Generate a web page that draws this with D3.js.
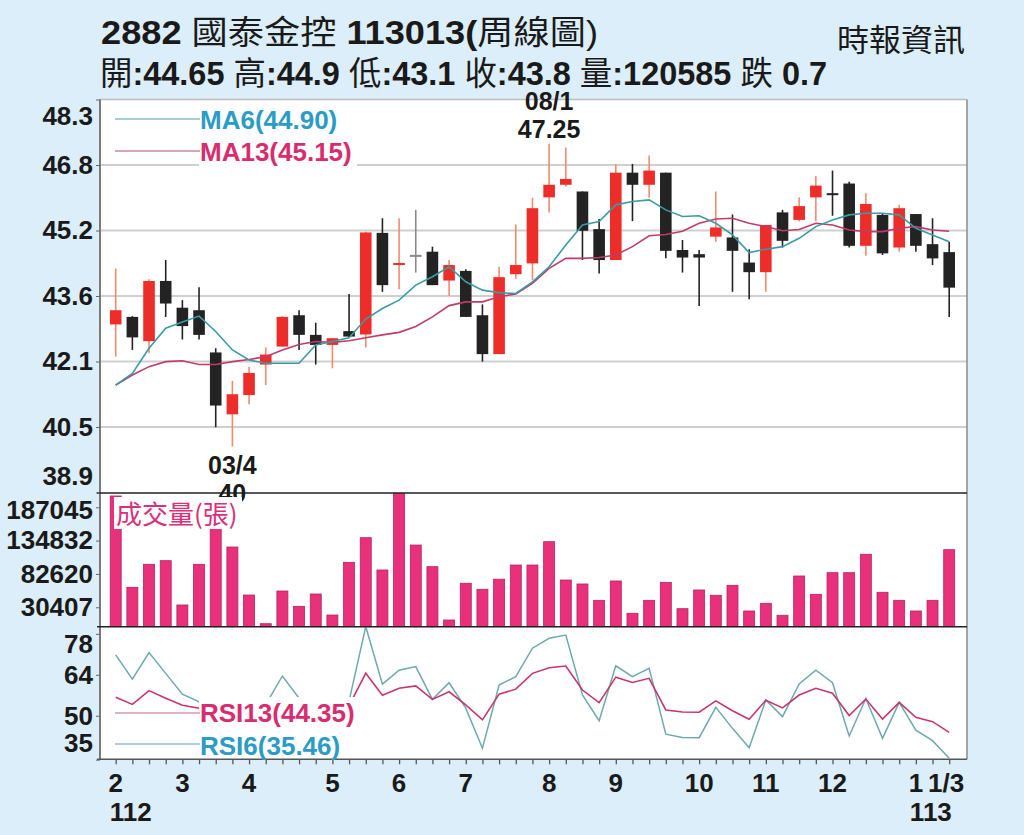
<!DOCTYPE html>
<html><head><meta charset="utf-8">
<script src="https://cdn.jsdelivr.net/npm/d3@7"></script>
<style>body{margin:0;background:#dceef9;} svg{display:block;}</style>
</head><body><svg id="c" width="1024" height="835"></svg>
<script>
// ---------- data ----------
const weeks = ["02/1","02/2","02/3","02/4","03/1","03/2","03/3","03/4","04/1","04/2","04/3","04/4","04/5",
  "05/1","05/2","05/3","05/4","06/1","06/2","06/3","06/4","07/1","07/2","07/3","07/4","07/5",
  "08/1","08/2","08/3","08/4","09/1","09/2","09/3","09/4","09/5","10/1","10/2","10/3","10/4",
  "11/1","11/2","11/3","11/4","12/1","12/2","12/3","12/4","12/5","01/1","01/2","01/3"];
const opens  = [42.92,43.10,42.52,43.96,43.32,43.26,42.25,40.77,41.23,41.96,42.39,43.14,42.67,42.43,42.76,42.68,45.11,44.35,44.56,44.66,43.97,44.20,43.14,42.21,44.12,44.38,45.96,46.26,46.10,45.20,44.46,46.55,46.26,46.55,44.70,44.60,45.02,45.00,44.40,44.17,45.60,45.42,45.96,46.05,46.29,44.80,45.54,44.76,45.56,44.84,44.65];
const highs  = [44.26,43.12,44.00,44.46,43.50,43.81,42.35,41.57,41.91,42.37,43.12,43.26,42.96,42.60,43.65,45.14,45.46,45.46,45.66,44.78,44.46,44.24,43.40,44.30,45.31,45.95,47.25,47.15,46.10,45.44,46.76,46.76,46.96,46.55,44.94,44.70,46.10,45.55,44.72,45.30,45.66,45.96,46.47,46.60,46.33,46.06,45.58,45.78,45.56,45.46,44.90];
const lows   = [42.15,42.31,42.23,43.10,42.56,42.56,40.46,40.00,41.01,41.47,42.39,42.31,41.96,41.87,42.62,42.37,43.70,43.76,44.16,43.86,43.60,43.10,42.03,42.21,44.01,43.98,45.60,46.22,44.46,44.14,44.46,45.39,45.95,44.50,44.16,43.36,44.90,43.70,43.52,43.70,44.76,45.38,45.39,45.52,44.76,44.56,44.58,44.66,44.66,44.34,43.10];
const closes = [43.26,42.61,43.96,43.42,42.88,42.67,40.98,41.25,41.76,42.20,43.10,42.67,42.43,42.59,42.63,45.12,43.86,44.38,44.56,43.86,44.34,43.10,42.21,44.05,44.34,45.70,46.26,46.40,45.16,44.46,46.55,46.26,46.60,44.68,44.52,44.52,45.24,44.68,44.17,45.30,44.92,45.75,46.24,46.02,44.80,45.80,44.62,45.70,44.80,44.50,43.80];
const volumes = [204700,61700,97700,103400,34000,97700,154100,124800,49600,4700,55900,31900,51200,18300,100800,139400,88800,208900,127900,94000,10500,68000,58600,74400,96600,96600,133100,73100,66900,41300,71600,21000,41300,69500,28200,57500,49200,64800,24600,36600,17900,79400,50700,84600,84600,113400,53900,41300,24600,41300,120585];
const ma6  = [41.47,41.75,42.35,42.83,42.98,43.12,42.75,42.31,42.07,41.99,41.99,41.99,42.43,42.51,42.60,43.05,43.30,43.50,43.86,44.06,44.30,43.94,43.74,43.68,43.66,43.94,44.30,44.82,45.30,45.38,45.78,45.86,45.90,45.66,45.50,45.52,45.34,45.06,44.64,44.72,44.78,44.98,45.26,45.42,45.54,45.58,45.58,45.54,45.22,45.06,44.90];
const ma13 = [41.47,41.71,41.91,42.03,42.05,41.96,41.96,42.03,42.08,42.15,42.31,42.44,42.51,42.49,42.53,42.60,42.67,42.73,42.87,43.10,43.37,43.46,43.46,43.58,43.65,43.90,44.26,44.50,44.50,44.52,44.58,44.78,45.04,45.07,45.15,45.34,45.44,45.46,45.34,45.26,45.16,45.19,45.34,45.30,45.18,45.14,45.14,45.22,45.26,45.18,45.15];
const rsi6  = [70.8,62.5,71.6,64.5,57.4,54.8,44.0,36.0,42.0,53.8,63.6,56.0,50.0,51.0,55.0,80.5,60.8,65.6,66.8,55.6,61.3,52.6,38.9,60.5,63.4,73.1,76.5,77.6,57.1,48.3,67.1,63.4,66.2,43.7,42.6,42.5,52.9,45.7,39.1,55.4,49.7,60.9,65.6,61.3,43.1,55.9,42.3,54.6,45.1,41.5,35.46];
const rsi13 = [56.3,53.9,58.6,56.0,53.6,52.6,45.0,43.0,45.0,47.0,52.0,49.0,48.0,49.0,53.5,64.5,57.0,59.4,60.2,55.6,58.2,53.7,48.6,57.4,59.1,64.5,66.4,67.0,58.8,54.5,63.2,61.4,62.8,52.0,51.3,51.2,55.1,51.7,48.8,55.3,52.7,57.1,59.4,57.7,50.1,55.7,48.9,54.6,49.5,48.0,44.35];

const priceTicks = [48.3,46.733,45.167,43.6,42.033,40.467,38.9];
const priceTickLabels = ["48.3","46.8","45.2","43.6","42.1","40.5","38.9"];
const volTicks = [187045,134832,82620,30407];
const rsiTicks = [78,64,50,35];
const monthTickWeeks = ["02/1","03/1","04/1","05/1","06/1","07/1","08/1","09/1","10/1","11/1","12/1","01/1","01/3"];
const monthTickLabels = ["2","3","4","5","6","7","8","9","10","11","12","1","1/3"];
const yearWeeks = ["02/1","01/1"];
const yearLabels = ["112","113"];
const annotWeeks = ["08/1","03/4"];
const annotPrices = [47.25,40];

// ---------- layout ----------
const W=1024,H=835, L=100, R=967;
const P={top:99.5,bot:492.5}, V={top:493.3,bot:626.7}, S={top:627,bot:759.3};
const FONT = '"Liberation Sans", Arial, "Noto Sans CJK TC", sans-serif';
const BG = '#dceef9';
const svg = d3.select('#c').style('font-family', FONT);
svg.append('rect').attr('width',W).attr('height',H).attr('fill',BG);
svg.append('rect').attr('x',L).attr('y',P.top).attr('width',R-L).attr('height',S.bot-P.top).attr('fill','#fff');

const x  = d3.scalePoint().domain(weeks).range([115.7,949.2]);
const yP = d3.scaleLinear().domain([38.9,48.3]).range([P.bot,P.top]);
const yV = d3.scaleLinear().domain([0,208900]).range([V.bot,V.top]);
const yR = d3.scaleLinear().domain([35.12,80.35]).range([S.bot,S.top]);

// grid
svg.append('g').selectAll('line').data(priceTicks.slice(1,-1)).join('line')
  .attr('x1',L).attr('x2',R).attr('y1',d=>yP(d)).attr('y2',d=>yP(d))
  .attr('stroke','#cfcfcf').attr('stroke-width',2);

// candles
const RED='#ec2d2a', BLK='#232323';
const cg = svg.append('g');
weeks.forEach((w,i)=>{
  const o=opens[i], c=closes[i], h=highs[i], l=lows[i];
  const up = c>o, flat = c===o;
  const col = flat ? '#8a8a8a' : (up?RED:BLK);
  const wcol = flat ? '#8a8a8a' : (up?'#f28a72':BLK);
  cg.append('line').attr('x1',x(w)).attr('x2',x(w)).attr('y1',yP(h)).attr('y2',yP(l))
    .attr('stroke',wcol).attr('stroke-width',1.6);
  const yt=yP(Math.max(o,c)), yb=yP(Math.min(o,c));
  const hh=Math.max(2, yb-yt);
  cg.append('rect').attr('x',x(w)-5.8).attr('width',11.6).attr('y',(yt+yb)/2-hh/2).attr('height',hh)
    .attr('fill',col);
});

// MA lines
const line = arr => d3.line().x((d,i)=>x(weeks[i])).y(d=>arr(d));
svg.append('path').attr('d',line(yP)(ma13)).attr('fill','none').attr('stroke','#c23a6c').attr('stroke-width',1.6);
svg.append('path').attr('d',line(yP)(ma6)).attr('fill','none').attr('stroke','#3a9ca4').attr('stroke-width',1.6);

// volume bars
svg.append('g').selectAll('rect').data(volumes).join('rect')
  .attr('x',(d,i)=>x(weeks[i])-5.5).attr('width',11)
  .attr('y',d=>yV(d)).attr('height',d=>V.bot-yV(d))
  .attr('fill','#e9307b').attr('stroke','#b4245f').attr('stroke-width',0.8);

// RSI lines
svg.append('path').attr('d',line(yR)(rsi6)).attr('fill','none').attr('stroke','#6fa9ad').attr('stroke-width',1.5);
svg.append('path').attr('d',line(yR)(rsi13)).attr('fill','none').attr('stroke','#c7366d').attr('stroke-width',1.6);

// panel borders
svg.append('line').attr('x1',L).attr('x2',R).attr('y1',P.top).attr('y2',P.top).attr('stroke','#bdbdbd').attr('stroke-width',1.5);
svg.append('line').attr('x1',R).attr('x2',R).attr('y1',P.top).attr('y2',S.bot).attr('stroke','#8a8a8a').attr('stroke-width',1.5);
svg.append('line').attr('x1',L).attr('x2',L).attr('y1',P.top).attr('y2',S.bot).attr('stroke','#7a7a7a').attr('stroke-width',2);
[V.top-0.3, S.top-0.2].forEach(yy=>svg.append('line').attr('x1',L-3).attr('x2',R).attr('y1',yy).attr('y2',yy).attr('stroke','#222').attr('stroke-width',1.6));
svg.append('line').attr('x1',L-3).attr('x2',R).attr('y1',S.bot).attr('y2',S.bot).attr('stroke','#555').attr('stroke-width',1.6);

// left axes with clamped labels
function leftAxis(scale, vals, fmt, top, bot){
  const g = svg.append('g').attr('transform',`translate(${L},0)`)
    .call(d3.axisLeft(scale).tickValues(vals).tickFormat(fmt).tickSize(4).tickPadding(3));
  g.select('.domain').remove();
  g.selectAll('line').attr('stroke','#666');
  g.selectAll('text').attr('font-size',26).attr('font-weight','bold').attr('fill','#1a1a1a')
    .attr('font-family',FONT)
    .attr('y',d=>Math.max(top+17, Math.min(bot-16, scale(d))) - scale(d));
}
leftAxis(yP, priceTicks, (d,i)=>priceTickLabels[i], P.top, P.bot);
leftAxis(yV, volTicks, d=>String(d), V.top, V.bot);
leftAxis(yR, rsiTicks, d=>String(d), S.top, S.bot);

// bottom axis ticks
const bx = svg.append('g').attr('transform',`translate(0,${S.bot})`)
  .call(d3.axisBottom(x).tickValues(weeks).tickFormat('').tickSize(5));
bx.select('.domain').remove();
bx.selectAll('line').attr('stroke','#555').attr('stroke-width',1.3);

svg.append('g').selectAll('text').data(monthTickWeeks).join('text')
  .attr('x',(d,i)=>x(d) - (i===monthTickWeeks.length-1?3:0)).attr('y',792)
  .attr('text-anchor','middle').attr('font-size',26).attr('font-weight','bold').attr('fill','#1a1a1a')
  .text((d,i)=>monthTickLabels[i]);
svg.append('g').selectAll('text').data(yearWeeks).join('text')
  .attr('x',d=>x(d)-6).attr('y',821)
  .attr('font-size',26).attr('font-weight','bold').attr('fill','#1a1a1a')
  .text((d,i)=>yearLabels[i]);

// high / low annotations
const hiY = yP(annotPrices[0]);
svg.append('text').attr('x',x(annotWeeks[0])).attr('y',hiY-33).attr('text-anchor','middle')
  .attr('font-size',25).attr('font-weight','bold').attr('fill','#1a1a1a').text(annotWeeks[0]);
svg.append('text').attr('x',x(annotWeeks[0])).attr('y',hiY-5).attr('text-anchor','middle')
  .attr('font-size',25).attr('font-weight','bold').attr('fill','#1a1a1a').text(annotPrices[0].toFixed(2));
const loY = yP(annotPrices[1]);
svg.append('text').attr('x',x(annotWeeks[1])).attr('y',loY+27).attr('text-anchor','middle')
  .attr('font-size',25).attr('font-weight','bold').attr('fill','#1a1a1a').text(annotWeeks[1]);
svg.append('text').attr('x',x(annotWeeks[1])).attr('y',loY+55).attr('text-anchor','middle')
  .attr('font-size',25).attr('font-weight','bold').attr('fill','#1a1a1a').text(String(annotPrices[1]));

// legend boxes (white) + texts
svg.append('rect').attr('x',199).attr('y',103).attr('width',158).attr('height',66).attr('fill','#fff');
svg.append('rect').attr('x',114).attr('y',497).attr('width',128).attr('height',32).attr('fill','#fff');
svg.append('rect').attr('x',199).attr('y',697).attr('width',158).attr('height',61).attr('fill','#fff');

function legend(y, txt, col, lineCol, base){
  svg.append('line').attr('x1',115).attr('x2',200).attr('y1',y).attr('y2',y).attr('stroke',lineCol).attr('stroke-width',1.3);
  svg.append('text').attr('x',200).attr('y',base).attr('font-size',26).attr('font-weight','bold').attr('fill',col).text(txt);
}
legend(119, `MA6(${ma6[ma6.length-1].toFixed(2)})`, '#2a9cc6', '#86bfc6', 129);
legend(151, `MA13(${ma13[ma13.length-1].toFixed(2)})`, '#d72d6e', '#c9879e', 161);
legend(713, `RSI13(${rsi13[rsi13.length-1].toFixed(2)})`, '#d72d6e', '#d59aae', 722);
legend(744, `RSI6(${rsi6[rsi6.length-1].toFixed(2)})`, '#2a9cc6', '#9bb8cc', 755);
svg.append('text').attr('x',116).attr('y',524).attr('font-size',26).attr('fill','#d8307a')
  .attr('font-family','"Noto Sans CJK TC", sans-serif').text('成交量(張)');

// header
const n=opens.length-1;
const t1 = svg.append('text').attr('x',101).attr('y',44).attr('font-size',33).attr('fill','#1a1a1a')
  .attr('textLength',497).attr('lengthAdjust','spacingAndGlyphs');
t1.append('tspan').attr('font-weight','bold').text('2882  ');
t1.append('tspan').text('國泰金控 ');
t1.append('tspan').attr('font-weight','bold').text('113013(');
t1.append('tspan').text('周線圖)');
const t2 = svg.append('text').attr('x',100).attr('y',85).attr('font-size',33).attr('fill','#1a1a1a')
  .attr('textLength',727).attr('lengthAdjust','spacingAndGlyphs');
const chg = closes[n]-closes[n-1];
[['開',opens[n].toFixed(2)],['高',String(highs[n])],['低',String(lows[n])],['收',String(closes[n])],['量',String(volumes[n])]]
  .forEach(([k,v])=>{ t2.append('tspan').text(k); t2.append('tspan').attr('font-weight','bold').text(':'+v+' '); });
t2.append('tspan').text(chg<0?'跌':'漲');
t2.append('tspan').attr('font-weight','bold').text(' '+Math.abs(chg).toFixed(1));
svg.append('text').attr('x',837).attr('y',51).attr('font-size',31).attr('fill','#1a1a1a')
  .attr('textLength',128).attr('lengthAdjust','spacingAndGlyphs').text('時報資訊');
</script></body></html>
